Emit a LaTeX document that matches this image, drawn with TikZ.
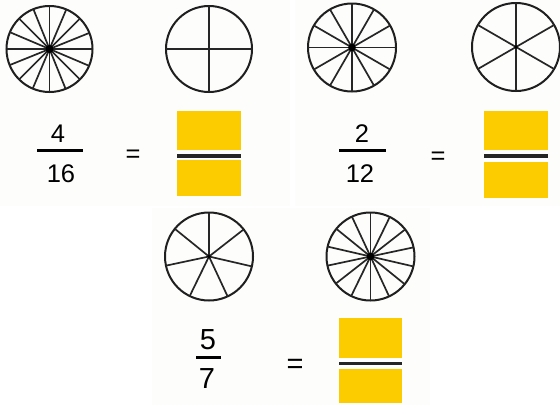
\documentclass[tikz,border=0pt]{standalone}
\usepackage{fontspec}
\setmainfont{Liberation Sans}
\definecolor{gold}{RGB}{253,204,0}
\definecolor{panel}{RGB}{253,253,251}
\begin{document}
\begin{tikzpicture}[x=1pt,y=-1pt,
  wheel/.style={circle, draw=black!88, line width=2pt, minimum size=#1, inner sep=0pt, outer sep=0pt},
  spoke/.style={line width=1.7pt, draw=black!85},
  hub/.style={fill=black},
  num/.style={font=\fontsize{25.5}{26}\selectfont, inner sep=0pt, anchor=base},
  bignum/.style={font=\fontsize{29}{30}\selectfont, inner sep=0pt, anchor=base},
  fbar/.style={line width=2.8pt, draw=black},
  goldbox/.style={fill=gold, inner sep=0pt, outer sep=0pt},
  band/.style={fill=white},
  midline/.style={line width=3.4pt, draw=black!85}
]
\useasboundingbox (0,0) rectangle (560,405);
\fill[white] (0,0) rectangle (560,405);
\fill[panel] (0,0) rectangle (290,206);
\fill[panel] (295,0) rectangle (560,206);
\fill[panel] (152,208) rectangle (430,405);

% wheels
\node[wheel=86pt] (w1) at (49.5,49) {};
\node[wheel=86pt] (w2) at (209,49) {};
\node[wheel=88pt] (w3) at (352,47.5) {};
\node[wheel=88pt] (w4) at (516,47) {};
\node[wheel=88pt] (w5) at (209,256.5) {};
\node[wheel=88pt] (w6) at (370.5,256.5) {};

\foreach \k [evaluate=\k as \a using 90+\k*360/16] in {1,...,16}
  \draw[spoke] (w1.center) -- (w1.\a);
\foreach \k [evaluate=\k as \a using 90+\k*360/4] in {1,...,4}
  \draw[spoke] (w2.center) -- (w2.\a);
\foreach \k [evaluate=\k as \a using 90+\k*360/12] in {1,...,12}
  \draw[spoke] (w3.center) -- (w3.\a);
\foreach \k [evaluate=\k as \a using 90+\k*360/6] in {1,...,6}
  \draw[spoke] (w4.center) -- (w4.\a);
\foreach \k [evaluate=\k as \a using 90+\k*360/7] in {1,...,7}
  \draw[spoke] (w5.center) -- (w5.\a);
\foreach \k [evaluate=\k as \a using 90+\k*360/14] in {1,...,14}
  \draw[spoke] (w6.center) -- (w6.\a);
\fill[hub] (w1.center) circle[radius=4pt];
\fill[hub] (w3.center) circle[radius=3.8pt];
\fill[hub] (w6.center) circle[radius=3.8pt];
\fill[hub] (w4.center) circle[radius=1.8pt];
\fill[hub] (w5.center) circle[radius=1.8pt];

% fraction 4/16
\node[num] (n1) at (58,142) {4};
\node[num] (d1) at (61,182) {16};
\draw[fbar] (37,150.5) -- (83,150.5);
\node[num] (e1) at (133,162) {=};
% box 1
\node[goldbox, minimum width=64pt, minimum height=85pt] (b1) at (209,153.5) {};
\fill[band] (177,150) rectangle (241,160);
\draw[midline] (177,156) -- (241,156);

% fraction 2/12
\node[num] (n2) at (362,142) {2};
\node[num] (d2) at (360,182) {12};
\draw[fbar] (339,150.7) -- (386,150.7);
\node[num] (e2) at (438,164) {=};
% box 2
\node[goldbox, minimum width=64pt, minimum height=86.5pt] (b2) at (516,154.7) {};
\fill[band] (484,150) rectangle (548,161.5);
\draw[midline] (484,156) -- (548,156);

% fraction 5/7
\node[bignum] (n3) at (208,349) {5};
\node[bignum] (d3) at (207,388) {7};
\draw[fbar] (196,357.5) -- (221,357.5);
\node[bignum] (e3) at (295,373) {=};
% box 3
\node[goldbox, minimum width=63pt, minimum height=85pt] (b3) at (370.5,360.5) {};
\fill[band] (339,358) rectangle (402,369);
\draw[midline] (339,363.7) -- (402,363.7);
\end{tikzpicture}
\end{document}
